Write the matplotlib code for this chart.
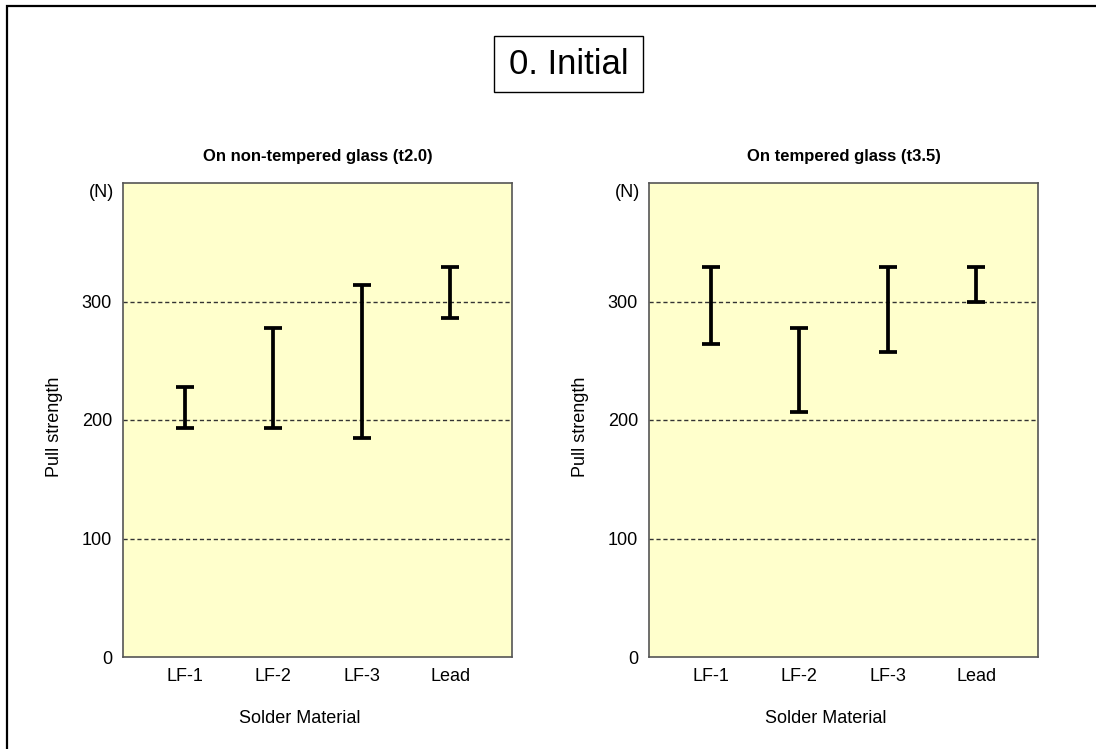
import matplotlib
matplotlib.use("Agg")
import matplotlib.pyplot as plt
from matplotlib.patches import Rectangle
import numpy as np

plt.rcParams['font.family'] = ['Liberation Sans', 'DejaVu Sans']

categories = ["LF-1", "LF-2", "LF-3", "Lead"]
left_low = [193, 193, 185, 286]
left_high = [228, 278, 314, 329]
right_low = [264, 207, 257, 300]
right_high = [329, 278, 329, 329]
yticks = [0, 100, 200, 300]
titles = ["On non-tempered glass (t2.0)", "On tempered glass (t3.5)"]
main_title = "0. Initial"

W, H = 1096, 749
fig = plt.figure(figsize=(W / 100, H / 100), dpi=100)

# outer border (extends beyond right/bottom edges)
fig.patches.append(Rectangle((6.5 / W, 0 - 0.01), 1.1, 1 - 6 / H + 0.01,
                             transform=fig.transFigure, fill=False,
                             edgecolor='black', linewidth=1.6))

# title box
bx0, bx1, by0, by1 = 494, 643, 36, 92
fig.patches.append(Rectangle((bx0 / W, 1 - by1 / H), (bx1 - bx0) / W, (by1 - by0) / H,
                             transform=fig.transFigure, fill=False,
                             edgecolor='black', linewidth=1.0))
fig.text((bx0 + bx1) / 2 / W, 1 - (by0 + by1) / 2 / H, main_title,
         ha='center', va='center', fontsize=25)

ax_w = 389 / W
ax_b = 1 - 657 / H
ax_h = (657 - 183) / H
lefts = [123 / W, 649 / W]
datasets = [(left_low, left_high), (right_low, right_high)]

x = np.arange(len(categories))
for i, (lx, (lo, hi)) in enumerate(zip(lefts, datasets)):
    ax = fig.add_axes([lx, ax_b, ax_w, ax_h])
    ax.set_facecolor('#FFFFCC')
    lo = np.array(lo, dtype=float)
    hi = np.array(hi, dtype=float)
    ax.errorbar(x, lo, yerr=[np.zeros_like(lo), hi - lo], fmt='none',
                ecolor='black', elinewidth=2.7, capsize=6.3, capthick=2.7, zorder=3)
    ax.set_xlim(-0.7, 3.7)
    ax.set_ylim(0, 400)
    ax.set_yticks(yticks)
    ax.set_yticklabels([str(v) for v in yticks], fontsize=13)
    ax.set_xticks(x)
    ax.set_xticklabels(categories, fontsize=13)
    ax.tick_params(length=0, pad=8)
    for v in yticks[1:]:
        ax.axhline(v, color='#333333', linewidth=1.0, linestyle=(0, (3, 2)), zorder=1)
    for s in ax.spines.values():
        s.set_color('#555555')
        s.set_linewidth(1.2)
    ax.set_xlabel("Solder Material", fontsize=13)
    ax.xaxis.set_label_coords(0.454, -0.129)
    ax.xaxis.label.set_verticalalignment('center')
    ax.set_ylabel("Pull strength", fontsize=13)
    ax.yaxis.set_label_coords(-0.175, 0.485)
    ax.yaxis.label.set_verticalalignment('center')
    ax.text(0.5, 1.055, titles[i], transform=ax.transAxes, ha='center', va='center',
            fontsize=12, fontweight='bold')
    ax.text(-0.022, 0.997, "(N)", transform=ax.transAxes, ha='right', va='top', fontsize=13)

fig.savefig("out.png", dpi=100)
